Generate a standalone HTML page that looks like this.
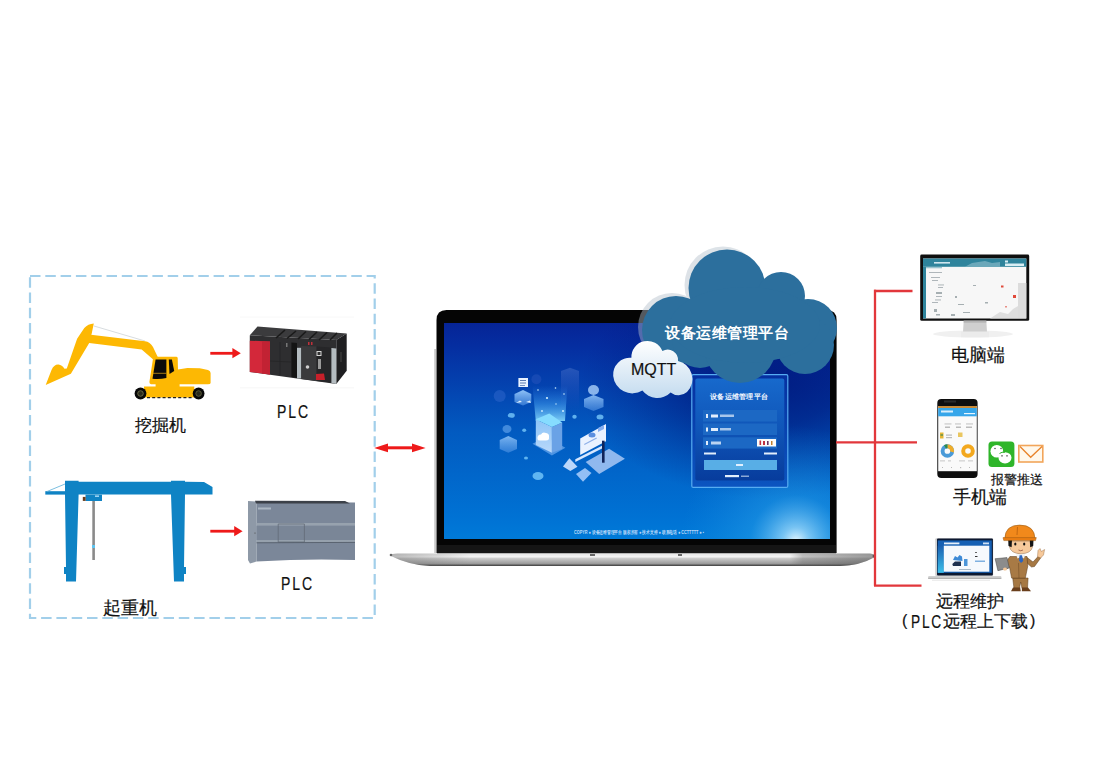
<!DOCTYPE html>
<html><head><meta charset="utf-8">
<style>
html,body{margin:0;padding:0;background:#fff;}
body{width:1097px;height:776px;position:relative;overflow:hidden;font-family:"Liberation Sans",sans-serif;color:#111;}
.t{position:absolute;white-space:nowrap;line-height:1;-webkit-text-stroke:0.2px #111;}
svg{position:absolute;left:0;top:0;}
</style></head><body>
<svg width="1097" height="776" viewBox="0 0 1097 776">
<defs>
  <linearGradient id="scr" gradientUnits="userSpaceOnUse" x1="0" y1="323" x2="0" y2="539">
    <stop offset="0" stop-color="rgb(6,36,150)"/>
    <stop offset="0.1" stop-color="rgb(5,45,160)"/>
    <stop offset="0.5" stop-color="rgb(2,90,192)"/>
    <stop offset="0.9" stop-color="rgb(0,114,212)"/>
    <stop offset="1" stop-color="rgb(0,122,216)"/>
  </linearGradient>
  <radialGradient id="dark" gradientUnits="userSpaceOnUse" cx="770" cy="385" r="190" gradientTransform="translate(0,154) scale(1,0.6)">
    <stop offset="0" stop-color="rgb(0,20,120)" stop-opacity="0.8"/>
    <stop offset="0.35" stop-color="rgb(0,20,120)" stop-opacity="0.62"/>
    <stop offset="0.75" stop-color="rgb(0,20,120)" stop-opacity="0.22"/>
    <stop offset="1" stop-color="rgb(0,20,120)" stop-opacity="0"/>
  </radialGradient>
  <linearGradient id="base" x1="0" y1="0" x2="0" y2="1">
    <stop offset="0" stop-color="#e4e4e4"/>
    <stop offset="0.28" stop-color="#f4f4f4"/>
    <stop offset="0.38" stop-color="#cdcdcd"/>
    <stop offset="0.8" stop-color="#9c9c9c"/>
    <stop offset="1" stop-color="#3a3a3a"/>
  </linearGradient>
</defs>
<!-- dashed box -->
<rect x="30" y="276" width="344.7" height="342" fill="none" stroke="#a2cfea" stroke-width="2.2" stroke-dasharray="10.5 4.8"/>

<!-- excavator -->
<path d="M94,326 L145,341" stroke="#d8dde0" stroke-width="1" fill="none"/>
<path d="M145,345 L153,357" stroke="#d8dde0" stroke-width="1" fill="none"/>
<g fill="#fdb803">
  <path d="M45.7,385.1 L51.5,370 Q54,364.2 58.5,364.5 Q62,365 64.5,368.8 L66.8,368.6 L77.1,338.7 L84.3,328 Q88,324 93.8,323.6 L91.5,334.6 L91,334.8 L145,341.3 Q150,342 153,347 L158.1,357.7 L153.2,359.4 L141.7,349.5 L89.2,343 L70.9,373.8 Z"/>
  <path d="M153.3,356.7 L176.5,356.7 Q177.7,357 177.7,358 L178,369.5 L187.4,367.9 L199.8,368.2 L208,370 Q210.6,371 210.6,373 L210.6,383 Q210.6,384.2 208,384.2 L179.6,384.2 L179.6,386.5 L194.3,386.5 L194.3,397.4 L144,397.4 L144,386.5 L155.6,386.5 L155.6,384.2 L151,384.2 Q149.4,384 149.4,382 Z"/>
</g>
<path d="M155.6,359.4 L166.4,359.4 L166.4,378 Q160,379.5 152.5,378.8 Z" fill="#0a0a0a"/>
<path d="M168.8,359.4 L171.9,359.4 L174.2,371 L169.5,374 Z" fill="#0a0a0a"/>
<line x1="153" y1="373.3" x2="166.4" y2="373.3" stroke="#c8961a" stroke-width="0.8"/>
<circle cx="140.5" cy="393.5" r="5.9" fill="#080808"/><circle cx="140.5" cy="393.5" r="2.8" fill="#2a2a1c" stroke="#777750" stroke-width="0.8"/>
<circle cx="198.6" cy="393.5" r="5.9" fill="#080808"/><circle cx="198.6" cy="393.5" r="2.8" fill="#2a2a1c" stroke="#666640" stroke-width="0.8"/>
<line x1="147" y1="397.6" x2="192" y2="397.6" stroke="#222" stroke-width="1.4" stroke-dasharray="3 2.2"/>

<!-- arrows left -->
<g fill="#ee1a1a">
  <rect x="210.3" y="351.9" width="23" height="2.8"/>
  <path d="M240.8,353.2 L232.4,348 L232.4,358.2 Z"/>
  <rect x="210.3" y="529.8" width="25" height="2.8"/>
  <path d="M242.6,531.2 L234.2,525.9 L234.2,536.2 Z"/>
  <rect x="387" y="446.3" width="26" height="3"/>
  <path d="M374.2,447.9 L388,443.6 L388,452.2 Z"/>
  <path d="M425.6,447.9 L412,443.6 L412,452.2 Z"/>
</g>

<!-- PLC1 -->
<g>
  <line x1="240" y1="317" x2="354" y2="317" stroke="#f6f6f6" stroke-width="0.8"/>
  <line x1="240" y1="387.8" x2="354" y2="387.8" stroke="#f4f4f4" stroke-width="0.8"/>
  <path d="M249.8,335.2 L257.5,326.5 L346.7,333.6 L336.3,340 Z" fill="#3b3b3d"/>
  <path d="M249.8,335.2 L336.3,340 L336.3,384 L249.8,372 Z" fill="#2e2e30"/>
  <path d="M336.3,340 L346.7,333.6 L346.7,370.8 L336.3,384 Z" fill="#1f1f21"/>
  <g stroke="#1a1a1a" stroke-width="1.6">
    <line x1="276" y1="338" x2="285" y2="330"/><line x1="287" y1="338.5" x2="296" y2="331"/>
    <line x1="298" y1="339" x2="306" y2="331.5"/><line x1="309" y1="339.5" x2="317" y2="332"/>
    <line x1="319" y1="340" x2="327" y2="332.5"/><line x1="330" y1="340" x2="337" y2="333"/>
  </g>
  <path d="M249.8,340.7 L270,341.5 L270,374.5 L249.8,372 Z" fill="#d3283a"/>
  <path d="M262,341.2 L270,341.5 L270,374.5 L262,373.5 Z" fill="#c22233"/>
  <line x1="280" y1="342" x2="280" y2="375" stroke="#242426" stroke-width="0.8"/>
  <line x1="270" y1="361" x2="291" y2="362" stroke="#242426" stroke-width="0.8"/>
  <rect x="286" y="343" width="1.5" height="4" fill="#777"/>
  <path d="M291.4,342.5 L297,343 L297,378 L291.4,377 Z" fill="#141414"/>
  <path d="M297,347.8 L301.3,347.8 L301.3,378.5 L297,378.5 Z" fill="#b4bcc0"/>
  <path d="M301.3,346 L316.6,346.5 L316.6,381 L301.3,379 Z" fill="#3a3a3c"/>
  <path d="M316.6,346.5 L331.4,347.5 L331.4,382.5 L316.6,381 Z" fill="#262628"/>
  <path d="M331.4,348 L336.3,348.5 L336.3,384 L331.4,383 Z" fill="#b4bcc0"/>
  <rect x="316.5" y="351" width="5" height="5" fill="#d8d8d8"/><rect x="317.5" y="352" width="3" height="3" fill="#333"/>
  <rect x="318" y="359" width="3" height="10" fill="#9a9a9a"/>
  <circle cx="307.5" cy="367" r="1.8" fill="#cfcfcf"/>
  <path d="M316,374 L324,373.5 L325,380 L316,380 Z" fill="#c8202a"/>
  <rect x="308" y="342" width="1.5" height="3" fill="#c0303a"/>
  <rect x="311" y="342" width="1.5" height="3" fill="#c0303a"/>
  <rect x="340" y="352" width="2" height="10" fill="#333"/>
</g>

<!-- crane -->
<g fill="#0f83c4">
  <path d="M65,480.8 L78.6,480.8 L78.6,481.8 L171,481.8 L171,480.8 L185,480.8 L185,481.8 L204,482 L212.5,487 L212.5,494.6 L185,494.6 L184,567 L186,567 L186,574 L184,574 L184,581.6 L174,581.6 L171,494.6 L78.6,494.6 L76,581.6 L66,581.6 L66,574 L64,574 L64,567 L66,567 L65,494.6 Z"/>
  <rect x="45.3" y="491.2" width="20" height="3.4"/>
  <rect x="85.5" y="494.6" width="16.5" height="6.4"/>
</g>
<line x1="47" y1="491.5" x2="65" y2="484" stroke="#5aaed8" stroke-width="0.8"/>
<rect x="82.8" y="496.9" width="2.8" height="4" fill="#6a3a1a"/>
<rect x="95" y="495.5" width="4" height="1.3" fill="#bfe6ff"/>
<rect x="92.3" y="501" width="2.6" height="59" fill="#8a8a8a"/>
<rect x="92" y="545" width="3" height="3" fill="#5fc4ef"/>

<!-- PLC2 -->
<g>
  <path d="M248,501 L256.5,501.5 L256.5,561.5 L250,563.4 L248,560 Z" fill="#8e99a7"/>
  <path d="M256.5,501.8 L355,502.5 L355,560 Q320,559 290,560 L256.5,561.5 Z" fill="#7b8799"/>
  <path d="M255,500.8 L345,501 L350,503.5 L256,503.5 Z" fill="#3c4149"/>
  <rect x="258" y="507.5" width="13" height="2" fill="#b8c2cc" opacity="0.8"/>
  <rect x="256.5" y="523" width="98.5" height="2.8" fill="#97a2ae"/>
  <rect x="256.5" y="525.8" width="98.5" height="14.2" fill="#7a8697"/>
  <rect x="256.5" y="540" width="98.5" height="2.3" fill="#96a1ad"/>
  <path d="M278.2,524 L304.4,524 L304.4,542 L278.2,542 Z" fill="none" stroke="#5e6772" stroke-width="0.7"/>
  <line x1="256.5" y1="542.8" x2="355" y2="542.4" stroke="#4f5864" stroke-width="0.8"/>
  <circle cx="255" cy="533" r="0.6" fill="#444"/>
</g>

<!-- laptop -->
<defs>
  <radialGradient id="glow" cx="796" cy="541" r="115" gradientUnits="userSpaceOnUse">
    <stop offset="0" stop-color="rgb(225,245,255)" stop-opacity="1"/>
    <stop offset="0.12" stop-color="rgb(150,215,250)" stop-opacity="0.8"/>
    <stop offset="0.4" stop-color="rgb(40,160,232)" stop-opacity="0.45"/>
    <stop offset="1" stop-color="rgb(20,140,225)" stop-opacity="0"/>
  </radialGradient>
  <linearGradient id="mq" x1="0" y1="0" x2="0" y2="1">
    <stop offset="0" stop-color="#ffffff"/>
    <stop offset="1" stop-color="#c3dbef"/>
  </linearGradient>
</defs>
<rect x="434.3" y="349" width="1.6" height="204" fill="#c4c4c4"/>
<path d="M436.5,320 Q436.5,310 446.5,310 L826.6,310 Q836.6,310 836.6,320 L836.6,553 L436.5,553 Z" fill="#050505"/>
<rect x="437" y="545" width="399" height="8.5" fill="#151515"/>
<rect x="444" y="323" width="386" height="216" fill="url(#scr)"/>
<rect x="444" y="323" width="386" height="216" fill="url(#dark)"/>
<rect x="444" y="323" width="386" height="216" fill="url(#glow)"/>
<path d="M389.8,555.5 Q392,553 400,553.5 L870,553.5 Q876,554 874,557.5 Q860,565.5 840,566 L430,566 Q410,565.5 389.8,555.5 Z" fill="url(#base)"/>
<defs><linearGradient id="basedk" gradientUnits="userSpaceOnUse" x1="790" y1="0" x2="875" y2="0">
<stop offset="0" stop-color="#606060" stop-opacity="0"/><stop offset="0.15" stop-color="#606060" stop-opacity="0.35"/><stop offset="1" stop-color="#505050" stop-opacity="0.55"/></linearGradient>
<linearGradient id="basedl" gradientUnits="userSpaceOnUse" x1="390" y1="0" x2="470" y2="0">
<stop offset="0" stop-color="#707070" stop-opacity="0.45"/><stop offset="1" stop-color="#707070" stop-opacity="0"/></linearGradient></defs>
<path d="M790,553.5 L870,553.5 Q876,554 874,557.5 Q860,565.5 840,566 L790,566 Z" fill="url(#basedk)"/>
<path d="M389.8,555.5 Q392,553 400,553.5 L470,553.5 L470,566 L430,566 Q410,565.5 389.8,555.5 Z" fill="url(#basedl)"/>
<circle cx="874" cy="556" r="1.5" fill="#555"/><circle cx="391" cy="555" r="1.3" fill="#666"/>
<rect x="590" y="554" width="5" height="2" fill="#666"/>
<rect x="678" y="554" width="4" height="2" fill="#666"/>

<!-- screen content -->
<defs>
  <linearGradient id="beam" x1="0" y1="1" x2="0" y2="0">
    <stop offset="0" stop-color="#8fe0ff" stop-opacity="0.85"/>
    <stop offset="0.5" stop-color="#4aa8f5" stop-opacity="0.45"/>
    <stop offset="1" stop-color="#3a8ff0" stop-opacity="0"/>
  </linearGradient>
  <linearGradient id="boxf" x1="0" y1="0" x2="0" y2="1">
    <stop offset="0" stop-color="#8cc4f7"/>
    <stop offset="1" stop-color="#b9d8fa"/>
  </linearGradient>
  <linearGradient id="prism" x1="0" y1="0" x2="0" y2="1">
    <stop offset="0" stop-color="#3562c0" stop-opacity="0.7"/>
    <stop offset="1" stop-color="#1a48b8" stop-opacity="0"/>
  </linearGradient>
  <linearGradient id="plat" x1="0" y1="0" x2="0" y2="1">
    <stop offset="0" stop-color="#9fd0ff" stop-opacity="0.9"/>
    <stop offset="1" stop-color="#5a9ae8" stop-opacity="0.6"/>
  </linearGradient>
</defs>
<circle cx="499.7" cy="396" r="6" fill="#2a62c8" opacity="0.6"/>
<circle cx="536.4" cy="379.3" r="5" fill="#1e4fb8" opacity="0.7"/>
<path d="M561,371 L570,367.7 L579,371 L579,411.6 L561,411.6 Z" fill="url(#prism)"/>
<path d="M532.5,385.8 L567.4,385.8 L565,421 L535.8,421 Z" fill="url(#beam)"/>
<g fill="#cfeeff">
  <circle cx="538" cy="390" r="0.8"/><circle cx="555.5" cy="388" r="0.8"/><circle cx="547" cy="398" r="1.1"/>
  <circle cx="564" cy="394" r="0.8"/><circle cx="556" cy="404" r="0.7"/><circle cx="542" cy="411" r="0.9"/><circle cx="563" cy="411" r="1"/>
</g>
<path d="M532.5,443.8 L551.9,455.4 L565.4,447.7 L546,437 Z" fill="#5a9de8" opacity="0.85"/>
<path d="M535.8,419.3 L551.9,427 L551.9,452.8 L535.8,445.1 Z" fill="url(#boxf)"/>
<path d="M551.9,427 L562.2,422.5 L562.2,449 L551.9,452.8 Z" fill="#6aa2e6"/>
<path d="M535.8,419.3 L549.3,413.5 L562.2,422.5 L551.9,427 Z" fill="#86dcff"/>
<path d="M537.5,439 Q537,434.5 541,434.5 Q542.5,431.5 546,433 Q549.5,433.5 549,437 Q549.5,440.5 546,440.5 L540,440.5 Q537.5,440.5 537.5,439 Z" fill="#ffffff"/>
<!-- left nodes -->
<path d="M514.5,394 L523,390 L531.3,394 L531.3,402 L523,405.5 L514.5,402 Z" fill="url(#plat)"/>
<rect x="518.4" y="378" width="9.6" height="9" fill="#e8f2ff"/>
<g fill="#5a7ab0"><rect x="520" y="380" width="6" height="1"/><rect x="520" y="382.5" width="6" height="1"/><rect x="520" y="385" width="5" height="0.8"/></g>
<path d="M516,403 L520,400.5 L522,402 Z M526,402 L530,400.5 L531,403 Z" fill="#dff0ff"/>
<path d="M499.7,440 L508.3,436 L517,440 L517,449 L508.3,452.8 L499.7,449 Z" fill="url(#plat)" opacity="0.85"/>
<ellipse cx="507" cy="429" rx="4.5" ry="4" fill="#6aaaf0" opacity="0.6"/>
<path d="M584,399 L593.5,395 L603.5,399 L603.5,407 L593.5,411 L584,407 Z" fill="url(#plat)" opacity="0.9"/>
<ellipse cx="593.5" cy="390" rx="5.5" ry="5" fill="#b5d9ff" opacity="0.75"/>
<g fill="#7fd0ff" opacity="0.75">
  <ellipse cx="511.3" cy="415.4" rx="3.5" ry="2.3"/><ellipse cx="524.2" cy="430.3" rx="2" ry="1.8"/>
  <ellipse cx="574.5" cy="416.7" rx="2.2" ry="2"/><ellipse cx="526" cy="458" rx="2" ry="1.6"/>
  <ellipse cx="600" cy="417" rx="3.5" ry="2.5"/><ellipse cx="538" cy="476" rx="5.5" ry="4"/>
</g>
<!-- dashboard -->
<path d="M585.7,461.9 L609.1,448.8 L624.9,458.7 L599.2,474 Z" fill="#a9c8f5" opacity="0.85"/>
<path d="M575.3,459.2 L604,444.8 L604,447.5 L575.3,462 Z" fill="#d7e7ff"/>
<path d="M580.2,438.4 L606,424 L606,441.2 L580.2,455.1 Z" fill="#eaf2ff"/>
<ellipse cx="592" cy="435" rx="3.5" ry="2.5" fill="#5b8fe0"/>
<path d="M598,428 L604,425 L604,429 L598,432 Z" fill="#86aef0"/>
<rect x="584" y="444" width="14" height="1.2" fill="#8fb0e8" transform="rotate(-28 584 444)"/>
<rect x="602" y="440.7" width="2.6" height="22" fill="#10245a"/>
<path d="M563,466.4 L569.4,458.3 L577.5,466.8 L570.3,471 Z" fill="#cfe3ff" opacity="0.9"/>
<path d="M576,474 L585,468 L591.5,473 L583,481.7 Z" fill="#b8d6ff" opacity="0.8"/>
<!-- login panel -->
<defs>
  <linearGradient id="lp" x1="0" y1="0" x2="0" y2="1">
    <stop offset="0" stop-color="#1769cc"/>
    <stop offset="0.5" stop-color="#0f55b8"/>
    <stop offset="1" stop-color="#073c9c"/>
  </linearGradient>
  <linearGradient id="lpo" x1="0" y1="0" x2="0" y2="1">
    <stop offset="0" stop-color="#0630a0"/>
    <stop offset="1" stop-color="#0b55c0"/>
  </linearGradient>
</defs>
<rect x="691.8" y="374.6" width="96" height="112.8" rx="1.5" fill="url(#lpo)" stroke="#56acf2" stroke-width="1.2"/>
<rect x="695.3" y="378.5" width="89" height="102" rx="2" fill="url(#lp)"/>
<text x="710" y="399" font-family="Liberation Sans, sans-serif" font-size="7.2" font-weight="bold" fill="#f2f7ff" letter-spacing="0.3">设备运维管理平台</text>
<rect x="703" y="410" width="74" height="11.5" fill="#1c68c4"/>
<rect x="703" y="423.5" width="74" height="11.5" fill="#1c68c4"/>
<rect x="703" y="437.3" width="74" height="11.3" fill="#1c68c4"/>
<rect x="757" y="439" width="19" height="7.5" fill="#fbfbfb"/>
<g fill="#e2eefc">
  <rect x="706" y="414" width="2" height="4"/><rect x="711" y="414.5" width="7" height="3"/><rect x="720" y="414.5" width="14" height="2.5" opacity="0.7"/>
  <rect x="706" y="427.5" width="2" height="4"/><rect x="711" y="428" width="7" height="3"/><rect x="720" y="428" width="11" height="2.5" opacity="0.7"/>
  <rect x="706" y="441" width="2" height="4"/><rect x="711" y="441.5" width="10" height="3" opacity="0.8"/>
  <rect x="704" y="452.5" width="12" height="2"/><rect x="764" y="452.5" width="13" height="2"/>
  <rect x="725" y="475" width="14" height="2.2"/><rect x="741" y="475.5" width="8" height="1.5" opacity="0.6"/>
</g>
<rect x="704" y="460" width="73" height="10" fill="#58aee6"/>
<rect x="736" y="464" width="7" height="2" fill="#e0f0ff"/>
<g fill="#c03040"><rect x="759.5" y="440.5" width="1.6" height="4.5"/><rect x="763" y="441" width="2" height="4"/><rect x="767" y="441" width="1.6" height="4" fill="#6a3060"/><rect x="771" y="441" width="1.5" height="4" fill="#c08030"/></g>
<!-- bottom line text -->
<text x="574" y="534" font-family="Liberation Sans, sans-serif" font-size="5" font-weight="bold" fill="#dbe9ff" opacity="0.85" textLength="130" lengthAdjust="spacingAndGlyphs">COPYR ● 设备运维管理平台 版权所有 ● 技术支持 ● 联系电话 ● CCTTTTT ● ▪</text>
<!-- big cloud -->
<g fill="#b4c0cc" opacity="0.45" transform="translate(-4,-3)">
  <circle cx="727" cy="288" r="38.5"/><circle cx="676" cy="330" r="34"/>
</g>
<g fill="#2c6f9d">
  <circle cx="727" cy="288" r="38.5"/>
  <circle cx="781" cy="296" r="24"/>
  <circle cx="808" cy="328" r="29"/>
  <circle cx="805" cy="345" r="29"/>
  <circle cx="676" cy="330" r="34"/>
  <circle cx="700" cy="340" r="28"/>
  <circle cx="740" cy="347" r="36"/>
  <ellipse cx="745" cy="325" rx="75" ry="38"/>
</g>
<!-- MQTT cloud -->
<path d="M631.4,357.8 A16.1,16.1 0 0 1 662.4,351 A10.4,10.4 0 0 1 678,361 A18.5,18.5 0 0 1 687,392 A12.7,12.7 0 0 1 670.6,392.4 A18.6,18.6 0 0 1 642.4,390.6 A19.3,19.3 0 0 1 613.2,376 A16.8,16.8 0 0 1 631.4,357.8 Z" fill="url(#mq)"/>

<!-- red lines right -->
<g stroke="#e2373b" stroke-width="2.3" fill="none">
  <line x1="836" y1="442.3" x2="917" y2="442.3"/>
  <line x1="875" y1="289.8" x2="875" y2="585.7"/>
  <line x1="874" y1="291" x2="912.5" y2="291"/>
  <line x1="874" y1="585.7" x2="921.5" y2="585.7"/>
</g>
<!-- monitor -->
<rect x="920.2" y="254.6" width="109" height="66.1" rx="1.5" fill="#0f0f0f"/>
<rect x="923" y="258.5" width="103.3" height="60" fill="#f7f7f7"/>
<rect x="923" y="258.5" width="103.3" height="8.3" fill="#2f849c"/>
<rect x="923" y="266.8" width="3" height="51.7" fill="#2f849c"/>
<rect x="934" y="262" width="16" height="1.6" fill="#cfe6ee"/>
<path d="M965,266.8 L972,263 L985,261 L992,263 L1000,262 L1000,266.8 Z" fill="#7ab2c2" opacity="0.8"/>
<rect x="1005" y="260.5" width="3" height="2" fill="#d8eef4"/>
<rect x="1005" y="263.5" width="19" height="2.5" fill="#d8eef4"/>
<rect x="926" y="266.8" width="16" height="1.5" fill="#5aa0b4" opacity="0.6"/>
<g fill="#8c979c" opacity="0.75">
  <rect x="929" y="272" width="13" height="0.9"/><rect x="931" y="277" width="9" height="0.9"/>
  <rect x="932" y="280" width="6" height="0.9"/><rect x="938" y="284.5" width="6" height="0.9"/><rect x="938" y="287" width="5" height="0.9"/>
  <rect x="936" y="292" width="6" height="2"/><rect x="936" y="296" width="6" height="0.9"/><rect x="935" y="299.5" width="6" height="0.9"/>
  <rect x="932" y="302" width="6" height="0.9"/><rect x="934" y="309" width="3" height="3"/><rect x="936" y="314" width="4" height="1.5"/>
  <rect x="973" y="285" width="3" height="1"/><rect x="955" y="296" width="2" height="2"/><rect x="985" y="302" width="3" height="1.5"/>
  <rect x="958" y="304" width="6" height="1"/><rect x="963" y="312" width="7" height="1"/><rect x="951" y="314" width="4" height="2"/>
</g>
<path d="M990,318.5 L1000,312 L1008,314 L1013,309 L1018,306 L1018,318.5 Z" fill="#dedede"/>
<rect x="1018" y="283" width="8.3" height="35.5" fill="#dcdcdc"/>
<g fill="#e04a3a"><rect x="1001" y="285.5" width="2.5" height="2"/><rect x="1013" y="295" width="3" height="3"/><rect x="1005" y="306" width="2" height="1.5" opacity="0.6"/></g>
<ellipse cx="973" cy="334" rx="40" ry="3.5" fill="#f0f0f0"/>
<path d="M963.7,320.7 L986.3,320.7 L987,331.7 L963,331.7 Z" fill="#cfcfcf"/>
<rect x="963.7" y="320.7" width="22.6" height="2" fill="#b5b5b5"/>
<rect x="961" y="331.7" width="28" height="5.5" fill="#ebebeb"/>
<!-- phone -->
<rect x="937.3" y="399" width="40.3" height="79" rx="4" fill="#0e0e0e"/>
<rect x="944" y="400.5" width="12" height="2" fill="#2a2a2a"/>
<rect x="938.2" y="406" width="38.6" height="65.2" fill="#fafafa"/>
<rect x="938.2" y="406" width="38.6" height="2" fill="#c88a38"/>
<rect x="938.2" y="408" width="38.6" height="8.3" fill="#36a6ea"/>
<rect x="941" y="410.5" width="12" height="2" fill="#d8eefc"/>
<rect x="964" y="413" width="11" height="1.2" fill="#e8f6ff"/>
<g fill="#888" opacity="0.55">
  <rect x="944.5" y="423.5" width="7" height="0.9"/><rect x="955" y="423.5" width="6" height="0.9"/><rect x="966" y="423.5" width="7" height="0.9"/>
  <rect x="945" y="426.5" width="5" height="1.5"/><rect x="956" y="426.5" width="5" height="1.5"/><rect x="966" y="426.5" width="6" height="1.5"/>
  <rect x="946" y="434.5" width="6" height="1.2"/><rect x="946" y="437" width="6" height="1.2"/>
  <rect x="940" y="460.5" width="5" height="0.8"/><rect x="948" y="460.5" width="3" height="0.8"/>
  <rect x="959" y="460.5" width="6" height="0.8"/><rect x="968" y="460.5" width="5" height="0.8"/>
  <rect x="942" y="467" width="1" height="1"/><rect x="951" y="467" width="1" height="1"/><rect x="960" y="467" width="1.2" height="1.2"/><rect x="969" y="467" width="1" height="1"/>
</g>
<rect x="940" y="432.5" width="3.5" height="6" fill="#e6b634"/><rect x="940.5" y="434" width="2.5" height="2" fill="#3a8a5a" opacity="0.6"/>
<rect x="958" y="432.5" width="4.5" height="4.5" fill="#e9c660"/>
<circle cx="947.4" cy="451" r="4.8" fill="none" stroke="#4a9ad8" stroke-width="3.9"/>
<path d="M947.4,446.2 A4.8,4.8 0 0 1 952.1,452" fill="none" stroke="#efad2a" stroke-width="3.9"/>
<path d="M947.4,446.2 A4.8,4.8 0 0 0 945,446.9" fill="none" stroke="#2e8a4a" stroke-width="3.9"/>
<circle cx="968" cy="451" r="4.8" fill="none" stroke="#f3a81e" stroke-width="4"/>
<!-- wechat -->
<rect x="988.5" y="441.4" width="25.9" height="25.5" rx="3.5" fill="#2fb52a"/>
<ellipse cx="996.8" cy="451.3" rx="6.3" ry="6.3" fill="#fff"/>
<ellipse cx="1005" cy="457.8" rx="6.5" ry="5.6" fill="#fff"/>
<path d="M999.5,453.5 A6.5,5.6 0 0 1 1005,452.2" fill="none" stroke="#2fb52a" stroke-width="1"/>
<g fill="#333"><circle cx="995" cy="448.5" r="0.7"/><circle cx="1001" cy="448.5" r="0.7"/><rect x="1001" y="455.5" width="2" height="0.8"/><rect x="1006" y="455.5" width="2" height="0.8"/></g>
<!-- mail -->
<rect x="1018.8" y="445.5" width="24" height="16.5" fill="#fff8ec" stroke="#f2a55a" stroke-width="1.6"/>
<path d="M1020,446.5 L1030.7,457.3 L1042,446.5" fill="none" stroke="#e8832a" stroke-width="1.3"/>
<!-- small laptop -->
<defs>
  <linearGradient id="slside" x1="0" y1="0" x2="0" y2="1">
    <stop offset="0" stop-color="#1a5fb0"/>
    <stop offset="1" stop-color="#3cc0ea"/>
  </linearGradient>
</defs>
<rect x="935.2" y="538.3" width="58" height="37.7" rx="1.2" fill="#d0d0d0"/>
<rect x="937" y="538.6" width="55.9" height="37" rx="1" fill="#0c1830"/>
<rect x="937.7" y="540.4" width="54.1" height="32.4" fill="#1660b4"/>
<rect x="937.7" y="545.7" width="6.1" height="27.1" fill="url(#slside)"/>
<rect x="943.8" y="545.7" width="45.5" height="26" fill="#f6f9fd"/>
<rect x="944" y="542.5" width="15.4" height="1.8" fill="#e6f0fb"/>
<rect x="983" y="542.5" width="6" height="1.8" fill="#cfe0f4"/>
<path d="M953,560 L955,556 L957.5,557.5 L959.5,555 L962,556.5 L962.5,561 Z" fill="#3d8ad6"/>
<path d="M952.3,564 L955,561.5 L961,561.5 L961,566 L953,566 Z" fill="#1e3050"/>
<rect x="964" y="559" width="3.5" height="7" fill="#4d95d8"/>
<rect x="975" y="552" width="2" height="0.9" fill="#555"/><rect x="975" y="556" width="2.5" height="1" fill="#333"/>
<rect x="975" y="560.5" width="10" height="1.5" fill="#7fb0e0"/>
<rect x="959" y="569" width="12" height="0.8" fill="#9ab"/>
<rect x="928.1" y="576" width="73.3" height="2.8" rx="1" fill="#d2d2d2"/>
<rect x="928.1" y="577.8" width="73.3" height="1" fill="#a8a8a8"/>
<rect x="932" y="579.8" width="58" height="0.8" fill="#e2e2e2"/>
<!-- worker -->
<g stroke-linejoin="round">
  <path d="M1012.7,578 L1028.1,578 L1027.5,588.4 L1022,588.4 L1020.7,582 L1019.5,588.4 L1014,588.4 Z" fill="#a67843" stroke="#5a3a18" stroke-width="0.5"/>
  <path d="M1013,587.5 L1020.2,587.5 L1020.7,591.2 L1011,591.2 Z" fill="#6a3f1c"/>
  <path d="M1021.9,587.5 L1028,587.5 L1031,591.2 L1021.9,591.2 Z" fill="#6a3f1c"/>
  <path d="M1026.4,557 L1033,562 L1038.5,556 L1041,557.5 L1034.5,566.5 L1031.5,567 L1027,563 Z" fill="#a67843" stroke="#5a3a18" stroke-width="0.5"/>
  <path d="M1037.5,556.5 L1038,550.5 L1040,548.5 L1041.3,551.5 L1044.6,549.5 L1043.5,555 L1040.5,558 Z" fill="#f6c99b" stroke="#8a5a30" stroke-width="0.4"/>
  <path d="M1009.9,556.5 L1027,556.5 L1027.8,566 L1025.3,578.1 L1011.6,578.1 L1009.5,567 L1004.8,570 L1002.5,567.5 Z" fill="#a87a45" stroke="#5a3a18" stroke-width="0.5"/>
  <path d="M995.1,558.7 L1007,557.6 L1009.3,567.9 L997.9,570.7 Z" fill="#8c8c8c" stroke="#444" stroke-width="0.5"/>
  <ellipse cx="1005" cy="569" rx="2" ry="1.6" fill="#f6c99b"/>
  <path d="M1016,554.2 L1025.3,554.2 L1024,558.5 L1021,557 L1017.5,558.5 Z" fill="#f2f2f2"/>
  <path d="M1019.6,555.3 L1022,555.3 L1023.2,561 L1021,563 L1019,560.5 Z" fill="#2a64c0"/>
  <line x1="1018.5" y1="563" x2="1019" y2="578" stroke="#6a4622" stroke-width="0.5"/>
  <path d="M1009.9,541 L1032.1,541 L1032.5,547 Q1031,553.5 1021,553.8 Q1011,553.5 1009.5,547 Z" fill="#f6c99b" stroke="#7a5030" stroke-width="0.4"/>
  <path d="M1008.2,540 L1012,540 L1011.6,547.3 L1008.5,546 Z" fill="#141414"/>
  <path d="M1029.8,540 L1033.5,540 L1033.2,546 L1030.2,547.3 Z" fill="#141414"/>
  <ellipse cx="1015.3" cy="544" rx="1.1" ry="1.5" fill="#111"/>
  <ellipse cx="1024.2" cy="544" rx="1.1" ry="1.5" fill="#111"/>
  <path d="M1018.5,550 Q1020.7,551.5 1023,550" fill="none" stroke="#7a3020" stroke-width="0.6"/>
  <path d="M1004.8,538.8 Q1005,525.1 1019.6,525.1 Q1034.5,525.1 1035,538.8 Z" fill="#f1891b" stroke="#9a5a12" stroke-width="0.6"/>
  <path d="M1003,537.6 L1036.3,537.6 L1035.5,540.6 L1003.8,540.6 Z" fill="#e97d12" stroke="#9a5a12" stroke-width="0.5"/>
  <line x1="1017.5" y1="527" x2="1017" y2="535" stroke="#b8600e" stroke-width="0.8"/>
</g>
</svg>

<div class="t" style="left:135px;top:417px;font-size:17px;">挖掘机</div>
<div class="t" style="left:277px;top:403.5px;font-size:17.5px;letter-spacing:2.5px;transform:scaleX(0.8);transform-origin:0 0;">PLC</div>
<div class="t" style="left:102.5px;top:599.5px;font-size:17.8px;">起重机</div>
<div class="t" style="left:280.5px;top:575.5px;font-size:17.5px;letter-spacing:2.5px;transform:scaleX(0.8);transform-origin:0 0;">PLC</div>
<div class="t" style="left:631px;top:362px;font-size:16px;color:#111;">MQTT</div>
<div class="t" style="left:665px;top:324.5px;font-size:15px;font-weight:bold;letter-spacing:0.5px;color:#fff;-webkit-text-stroke:0;">设备运维管理平台</div>
<div class="t" style="left:951px;top:347px;font-size:17.7px;">电脑端</div>
<div class="t" style="left:952.5px;top:489.3px;font-size:17.7px;">手机端</div>
<div class="t" style="left:991px;top:472.5px;font-size:13px;">报警推送</div>
<div class="t" style="left:935.7px;top:592.6px;font-size:17.4px;">远程维护</div>
<div class="t" style="left:902px;top:613px;font-size:16px;">(</div>
<div class="t" style="left:911px;top:613.5px;font-size:17.5px;letter-spacing:2.3px;transform:scaleX(0.78);transform-origin:0 0;">PLC</div>
<div class="t" style="left:943px;top:613px;font-size:17px;">远程上下载</div>
<div class="t" style="left:1030px;top:613px;font-size:16px;">)</div>
</body></html>
